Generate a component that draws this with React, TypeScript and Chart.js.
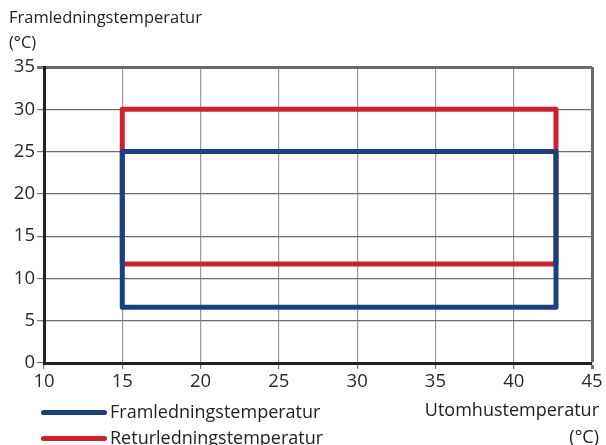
import React, { useEffect, useRef } from "react";
import { Chart, registerables } from "chart.js";

Chart.register(...registerables);

const yTitle = ["Framledningstemperatur", "(°C)"];
const xTitle = ["Utomhustemperatur", "(°C)"];
const seriesNames = ["Framledningstemperatur", "Returledningstemperatur"];
const seriesColors = ["#17427f", "#cf212d"];

const flowX = [15, 15, 42.7, 42.7, 15];
const flowY = [6.6, 25, 25, 6.6, 6.6];
const returnX = [15, 15, 42.7, 42.7, 15];
const returnY = [11.7, 30, 30, 11.7, 11.7];

const xMin = 10, xMax = 45, xStep = 5;
const yMin = 0, yMax = 35, yStep = 5;

const FONT = "'Open Sans', sans-serif";

export default function App() {
  const ref = useRef<HTMLCanvasElement>(null);
  useEffect(() => {
    document.body.style.margin = "0";
    const ctx = ref.current!;
    const chart = new Chart(ctx, {
      type: "scatter",
      data: {
        datasets: [
          {
            label: seriesNames[0],
            data: flowX.map((x, i) => ({ x, y: flowY[i] })),
            showLine: true,
            borderColor: seriesColors[0],
            backgroundColor: seriesColors[0],
            borderWidth: 5,
            pointRadius: 0,
            borderJoinStyle: "round",
            borderCapStyle: "round",
            tension: 0,
          },
          {
            label: seriesNames[1],
            data: returnX.map((x, i) => ({ x, y: returnY[i] })),
            showLine: true,
            borderColor: seriesColors[1],
            backgroundColor: seriesColors[1],
            borderWidth: 5,
            pointRadius: 0,
            borderJoinStyle: "round",
            borderCapStyle: "round",
            tension: 0,
          },
        ],
      },
      options: {
        animation: false,
        responsive: false,
        maintainAspectRatio: false,
        layout: { padding: { top: 67, right: 14, left: 0, bottom: 0 } },
        plugins: { legend: { display: false }, tooltip: { enabled: false } },
        scales: {
          x: {
            type: "linear",
            min: xMin,
            max: xMax,
            ticks: { stepSize: xStep, color: "#2a2a2a", font: { family: FONT, size: 18.5 }, padding: 2 },
            grid: {
              color: (c: any) => (c.tick && c.tick.value === xMax ? "#6a6a6a" : "#9a9a9a"),
              lineWidth: (c: any) => (c.tick && c.tick.value === xMax ? 3 : 1.2),
              tickLength: 6,
              tickColor: "#777",
            },
            border: { color: "#222", width: 3 },
            afterFit: (s: any) => {
              s.height = 82;
            },
          },
          y: {
            type: "linear",
            min: yMin,
            max: yMax,
            ticks: { stepSize: yStep, color: "#2a2a2a", font: { family: FONT, size: 18.5 }, padding: 2 },
            grid: {
              color: (c: any) => (c.tick && c.tick.value === yMax ? "#6a6a6a" : "#6e6e6e"),
              lineWidth: (c: any) => (c.tick && c.tick.value === yMax ? 3 : 1.2),
              tickLength: 7,
              tickColor: "#777",
            },
            border: { color: "#222", width: 3 },
            afterFit: (s: any) => {
              s.width = 44;
            },
          },
        },
      },
    });
    return () => chart.destroy();
  }, []);

  const textStyle: React.CSSProperties = {
    position: "absolute",
    fontFamily: FONT,
    fontSize: 16.5,
    color: "#222",
    lineHeight: "20px",
    whiteSpace: "nowrap",
  };

  return (
    <div style={{ position: "relative", width: 606, height: 445, overflow: "hidden", background: "#fff" }}>
      <canvas ref={ref} width={606} height={445} style={{ position: "absolute", left: 0, top: 0 }} />
      <div style={{ ...textStyle, left: 9, top: 7 }}>{yTitle[0]}</div>
      <div style={{ ...textStyle, left: 9, top: 32 }}>{yTitle[1]}</div>
      <div style={{ ...textStyle, fontSize: 18, right: 7, top: 399, textAlign: "right" }}>{xTitle[0]}</div>
      <div style={{ ...textStyle, fontSize: 18, right: 7, top: 426, textAlign: "right" }}>{xTitle[1]}</div>
      {seriesNames.map((n, i) => (
        <div key={n} style={{ position: "absolute", left: 41, top: 400 + i * 26, height: 22, display: "flex", alignItems: "center" }}>
          <div style={{ width: 66, height: 5, borderRadius: 3, background: seriesColors[i], marginRight: 3, marginTop: 3 }} />
          <span style={{ fontFamily: FONT, fontSize: 18, color: "#222", whiteSpace: "nowrap" }}>{n}</span>
        </div>
      ))}
    </div>
  );
}
